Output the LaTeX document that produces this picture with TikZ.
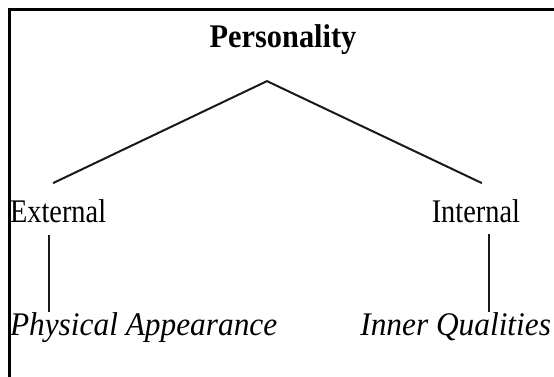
\documentclass[tikz,border=0pt]{standalone}
\usepackage{fontspec}
\setmainfont[FakeStretch=0.86]{Liberation Serif}
\newfontfamily\titlefont[FakeStretch=0.92]{Liberation Serif}
\newfontfamily\leaffont[FakeStretch=0.95]{Liberation Serif}
\usepackage{tikz}
\usetikzlibrary{positioning}
\tikzset{%
  % Specifications for style of nodes:
        base/.style = {inner sep=0pt, outer sep=0pt,
                       font=\fontsize{33}{38}\selectfont},
       title/.style = {base, font=\fontsize{33}{38}\selectfont\titlefont\bfseries},
      branch/.style = {base},
        leaf/.style = {base, font=\fontsize{33}{38}\selectfont\leaffont\itshape},
  % Specifications for style of lines:
        link/.style = {draw=black!90, line width=2pt},
       frame/.style = {draw=black, line width=3pt},
}

\begin{document}
\begin{tikzpicture}[x=1pt, y=-1pt, node distance=26pt]
  \useasboundingbox (0,0) rectangle (554,377);
  % Specification of nodes (position, etc.)
  \draw[frame] (9,377) -- (9,10) -- (554,10);
  \node (pers)  [title, anchor=base]       at (283,48)  {Personality};
  \coordinate[below=of pers, xshift=-16pt] (apex);
  \node (ext)   [branch, anchor=base west] at (10,222)  {External};
  \node (int)   [branch, anchor=base east] at (520,222) {Internal};
  \node (phys)  [leaf, anchor=base west]   at (10,335)  {Physical Appearance};
  \node (inner) [leaf, anchor=base east]   at (551,335) {Inner Qualities};
  % Specification of lines between nodes specified above
  \draw[link] ([xshift=-5pt,yshift=16pt]ext.north) -- (apex)
              -- ([xshift=6pt,yshift=16pt]int.north);
  \draw[link] ([xshift=39pt,yshift=-13pt]ext.south west)
              -- ([xshift=39pt]phys.north west);
  \draw[link] ([xshift=-31pt,yshift=-12pt]int.south east)
              -- ([xshift=-62pt]inner.north east);
\end{tikzpicture}
\end{document}
